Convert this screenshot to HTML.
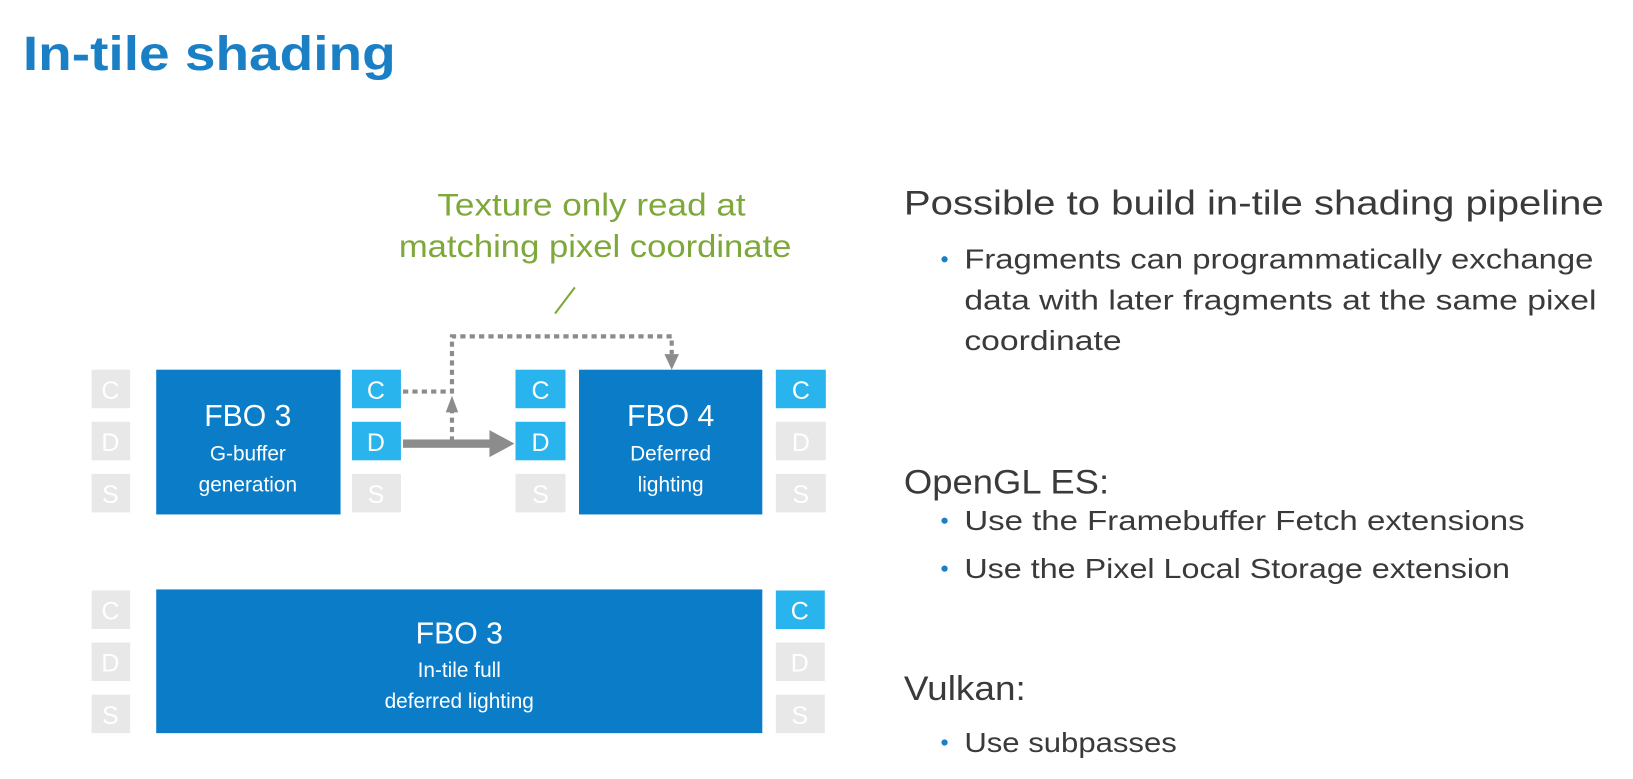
<!DOCTYPE html>
<html><head><meta charset="utf-8"><style>
html,body{margin:0;padding:0;background:#fff;}
svg{display:block;}
text{font-family:"Liberation Sans",sans-serif;}
</style></head><body>
<svg width="1633" height="779" viewBox="0 0 1633 779" xmlns="http://www.w3.org/2000/svg">
<g transform="scale(1.0414)">
<text x="22" y="67" font-size="46" font-weight="bold" fill="#1a7fc4" textLength="358" lengthAdjust="spacingAndGlyphs">In-tile shading</text>

<g fill="#7ea83a" font-size="30">
<text x="420" y="207" textLength="296" lengthAdjust="spacingAndGlyphs">Texture only read at</text>
<text x="383" y="247" textLength="377" lengthAdjust="spacingAndGlyphs">matching pixel coordinate</text>
</g>
<line x1="533" y1="301" x2="552" y2="276" stroke="#7ea83a" stroke-width="2"/>

<g fill="#e8e8e8">
<rect x="88" y="355" width="37" height="37"/><rect x="88" y="405" width="37" height="37"/><rect x="88" y="455" width="37" height="37"/>
<rect x="338" y="455" width="47" height="37"/>
<rect x="495" y="455" width="48" height="37"/>
<rect x="745" y="405" width="48" height="37"/><rect x="745" y="455" width="48" height="37"/>
<rect x="88" y="567" width="37" height="37"/><rect x="88" y="617" width="37" height="37"/><rect x="88" y="667" width="37" height="37"/>
<rect x="745" y="617" width="47" height="37"/><rect x="745" y="667" width="47" height="37"/>
</g>
<g fill="#2ab4ee">
<rect x="338" y="355" width="47" height="37"/><rect x="338" y="405" width="47" height="37"/>
<rect x="495" y="355" width="48" height="37"/><rect x="495" y="405" width="48" height="37"/>
<rect x="745" y="355" width="48" height="37"/>
<rect x="745" y="567" width="47" height="37"/>
</g>
<g fill="#0a7cc8">
<rect x="150" y="355" width="177" height="139"/>
<rect x="556" y="355" width="176" height="139"/>
<rect x="150" y="566" width="582" height="138"/>
</g>
<g font-size="24" fill="#fff" text-anchor="middle">
<text x="106" y="383">C</text><text x="106" y="433">D</text><text x="106" y="483">S</text>
<text x="361" y="383">C</text><text x="361" y="433">D</text><text x="361" y="483">S</text>
<text x="519" y="383">C</text><text x="519" y="433">D</text><text x="519" y="483">S</text>
<text x="769" y="383">C</text><text x="769" y="433">D</text><text x="769" y="483">S</text>
<text x="106" y="595">C</text><text x="106" y="645">D</text><text x="106" y="695">S</text>
<text x="768" y="595">C</text><text x="768" y="645">D</text><text x="768" y="695">S</text>
</g>
<g fill="#fff" text-anchor="middle">
<text x="238" y="409" font-size="29">FBO 3</text>
<text x="238" y="442" font-size="20">G-buffer</text>
<text x="238" y="472" font-size="20">generation</text>
<text x="644" y="409" font-size="29">FBO 4</text>
<text x="644" y="442" font-size="20">Deferred</text>
<text x="644" y="472" font-size="20">lighting</text>
<text x="441" y="618" font-size="29">FBO 3</text>
<text x="441" y="650" font-size="20">In-tile full</text>
<text x="441" y="680" font-size="20">deferred lighting</text>
</g>

<g stroke="#8c8c8c" stroke-width="4" fill="none" stroke-dasharray="5,4">
<polyline points="387,376 434,376 434,323 645,323 645,340"/>
<line x1="434" y1="424" x2="434" y2="394"/>
</g>
<polygon points="428,396 440,396 434,380" fill="#8c8c8c"/>
<polygon points="638,340 652,340 645,355" fill="#8c8c8c"/>
<rect x="387" y="422" width="85" height="8" fill="#8c8c8c"/>
<polygon points="470,413 470,439 494,426" fill="#8c8c8c"/>

<g fill="#3a3a3a">
<text x="868" y="206" font-size="33" textLength="672" lengthAdjust="spacingAndGlyphs">Possible to build in-tile shading pipeline</text>
<text x="926" y="258" font-size="27" textLength="604" lengthAdjust="spacingAndGlyphs">Fragments can programmatically exchange</text>
<text x="926" y="297" font-size="27" textLength="607" lengthAdjust="spacingAndGlyphs">data with later fragments at the same pixel</text>
<text x="926" y="336" font-size="27" textLength="151" lengthAdjust="spacingAndGlyphs">coordinate</text>
<text x="868" y="474" font-size="33" textLength="197" lengthAdjust="spacingAndGlyphs">OpenGL ES:</text>
<text x="926" y="509" font-size="27" textLength="538" lengthAdjust="spacingAndGlyphs">Use the Framebuffer Fetch extensions</text>
<text x="926" y="555" font-size="27" textLength="524" lengthAdjust="spacingAndGlyphs">Use the Pixel Local Storage extension</text>
<text x="868" y="672" font-size="33" textLength="117" lengthAdjust="spacingAndGlyphs">Vulkan:</text>
<text x="926" y="722" font-size="27" textLength="204" lengthAdjust="spacingAndGlyphs">Use subpasses</text>
</g>
<g fill="#1a7fc4">
<circle cx="907" cy="249" r="3"/><circle cx="907" cy="500" r="3"/><circle cx="907" cy="546" r="3"/><circle cx="907" cy="713" r="3"/>
</g>
</g>
</svg>
</body></html>
